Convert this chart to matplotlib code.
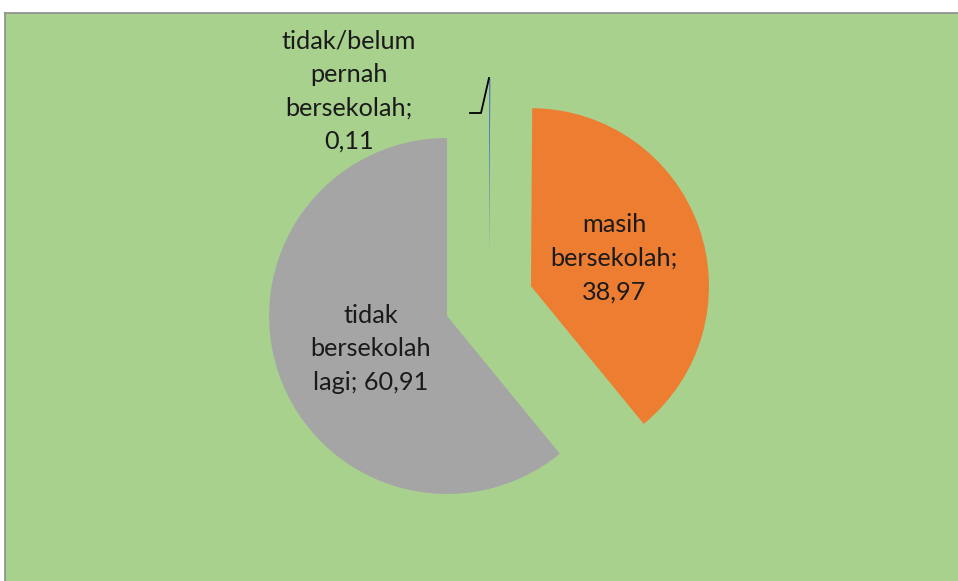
import matplotlib
matplotlib.use("Agg")
import matplotlib.pyplot as plt
from matplotlib.patches import Rectangle

# Data
kategori = ["tidak/belum pernah bersekolah", "masih bersekolah", "tidak bersekolah lagi"]
nilai = [0.11, 38.97, 60.91]
warna = ["#4472C4", "#ED7D31", "#A5A5A5"]
label_teks = ["tidak/belum\npernah\nbersekolah;\n0,11",
              "masih\nbersekolah;\n38,97",
              "tidak\nbersekolah\nlagi; 60,91"]

W, H = 958, 581
CX, CY, R = 489, 301, 178  # pie centre/radius in pixels


def px(x, y):
    # pixel position (from top-left) -> data units of the pie
    return (x - CX) / R, (CY - y) / R


fig = plt.figure(figsize=(W / 100, H / 100), dpi=100)
fig.patch.set_facecolor("white")

# green plot area with grey border at top/left
bg = Rectangle((5 / W, 0), 1 - 5 / W, (H - 13) / H, transform=fig.transFigure,
               facecolor="#A9D18E", edgecolor="none", zorder=-10)
fig.add_artist(bg)
fig.add_artist(plt.Line2D([5 / W, 1], [(H - 13) / H] * 2, transform=fig.transFigure,
                          color="#8C8C8C", lw=1.2, zorder=-5))
fig.add_artist(plt.Line2D([5 / W] * 2, [0, (H - 13) / H], transform=fig.transFigure,
                          color="#8C8C8C", lw=1.2, zorder=-5))

ax = fig.add_axes([0, 0, 1, 1])
ax.patch.set_alpha(0)
ax.pie(nilai, colors=warna, startangle=90, counterclock=False,
       explode=[0.25, 0.25, 0.25], radius=1,
       wedgeprops=dict(linewidth=0))

ax.set_xlim(-CX / R, (W - CX) / R)
ax.set_ylim(-(H - CY) / R, CY / R)
ax.set_aspect("equal")
ax.axis("off")

font = dict(family="Lato", fontsize=18.2, color="#1A1A1A", ha="center", va="center",
            linespacing=1.56)
posisi = [(349, 91), (614, 258), (371, 349)]
for teks, (x, y) in zip(label_teks, posisi):
    ax.text(*px(x, y), teks, **font)

# leader line for the tiny slice
lx, ly = zip(px(470, 113), px(481, 113), px(489, 78))
ax.plot(lx, ly, color="black", lw=1.3)

fig.savefig("out.png", dpi=100)
